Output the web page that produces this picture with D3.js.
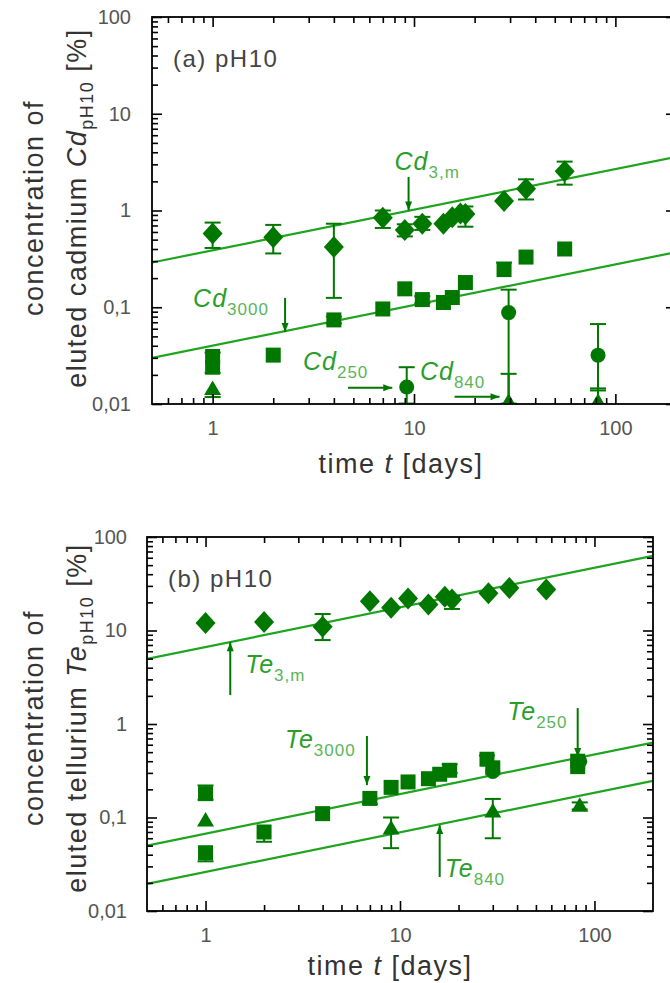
<!DOCTYPE html>
<html><head><meta charset="utf-8">
<script src="https://cdn.jsdelivr.net/npm/d3@7"></script>
<style>body{margin:0;background:#fff}svg{display:block}</style>
</head><body>
<svg id="c" width="670" height="983"></svg>
<script>
// ---------- tick labels ----------
const xMajor = [1, 10, 100];
const xMajorLabels = ["1", "10", "100"];
const xMinor = [0.6, 0.7, 0.8, 0.9, 2, 3, 4, 5, 6, 7, 8, 9, 20, 30, 40, 50, 60, 70, 80, 90];
const yMajor = [0.01, 0.1, 1, 10, 100];
const yMajorLabels = ["0,01", "0,1", "1", "10", "100"];
const yMinor = [0.02,0.03,0.04,0.05,0.06,0.07,0.08,0.09,0.2,0.3,0.4,0.5,0.6,0.7,0.8,0.9,2,3,4,5,6,7,8,9,20,30,40,50,60,70,80,90];

// ---------- panel (a) Cd ----------
const cd3mT  = [1, 2, 4, 7, 9, 11, 14, 15.5, 17, 18, 28, 36, 56];
const cd3mV  = [0.58, 0.53, 0.42, 0.84, 0.63, 0.73, 0.73, 0.85, 0.93, 0.92, 1.25, 1.68, 2.55];
const cd3mLo = [0.41, 0.36, 0.125, 0.66, 0.54, 0.63, null, null, null, 0.68, null, 1.3, 1.85];
const cd3mHi = [0.75, 0.71, 0.73, 1.0, 0.72, 0.86, null, null, null, 1.1, null, 2.1, 3.2];

const cd3000T  = [1, 1, 2, 4, 7, 9, 11, 14, 15.5, 18, 28, 36, 56];
const cd3000V  = [0.031, 0.024, 0.032, 0.074, 0.096, 0.155, 0.12, 0.112, 0.126, 0.18, 0.245, 0.33, 0.40];
const cd3000Lo = [0.021, null, null, 0.068, null, null, 0.11, null, null, null, null, null, null];
const cd3000Hi = [0.034, null, null, 0.08, null, null, 0.13, null, null, null, 0.29, null, null];

const cd250T  = [9.2, 29.5, 82];
const cd250V  = [0.015, 0.088, 0.032];
const cd250Lo = [0.0101, 0.0101, 0.0138];
const cd250Hi = [0.024, 0.152, 0.067];

const cd840T  = [1, 29.5, 82];
const cd840V  = [0.0145, 0.0107, 0.0107];
const cd840Lo = [0.0118, null, null];
const cd840Hi = [null, 0.0205, 0.0145];

const fitAT     = [0.5, 200];
const fitA3m    = [0.29, 3.59];
const fitA3000  = [0.030, 0.371];

// ---------- panel (b) Te ----------
const te3mT  = [1, 2, 4, 7, 9, 11, 14, 17, 18.5, 28.5, 36.5, 56.5];
const te3mV  = [12, 12.3, 11, 20.5, 17.5, 22, 19, 23, 21.5, 25, 28.5, 27.5];
const te3mLo = [null, null, 7.9, null, null, null, null, null, 17, null, null, null];
const te3mHi = [null, null, 15, null, null, null, null, null, 23.5, null, null, null];

const te3000T  = [1, 1, 2, 4, 7, 9, 11, 14, 16, 18, 28, 30, 82, 82];
const te3000V  = [0.18, 0.042, 0.07, 0.11, 0.16, 0.21, 0.24, 0.26, 0.29, 0.32, 0.42, 0.34, 0.40, 0.35];
const te3000Lo = [0.155, 0.034, 0.055, null, 0.14, null, null, null, null, 0.3, null, null, null, null];
const te3000Hi = [0.22, null, null, null, null, null, null, null, null, 0.37, 0.46, null, null, null];

const te250T = [30, 84];
const te250V = [0.31, 0.40];
const te250Lo = [null, null];
const te250Hi = [null, null];

const te840T  = [1, 9, 30, 84];
const te840V  = [0.094, 0.077, 0.117, 0.135];
const te840Lo = [null, 0.047, 0.06, 0.122];
const te840Hi = [null, 0.1, 0.158, 0.145];

const fitBT    = [0.5, 200];
const fitB3m   = [4.96, 62.9];
const fitB3000 = [0.05, 0.634];
const fitB840  = [0.0195, 0.247];

// ---------- annotations (data coordinates) ----------
const annA = [
  {el: "Cd", sub: "3,m",  t: 8.0,  v: 2.62},
  {el: "Cd", sub: "3000", t: 0.80, v: 0.1006},
  {el: "Cd", sub: "250",  t: 2.81, v: 0.0225},
  {el: "Cd", sub: "840",  t: 10.7, v: 0.0177}
];
const arrA = [
  {t1: 9.4,  v1: 2.22,   t2: 9.4,  v2: 1.0},
  {t1: 2.29, v1: 0.125,  t2: 2.29, v2: 0.0554},
  {t1: 4.7,  v1: 0.0147, t2: 7.8,  v2: 0.0147},
  {t1: 15.9, v1: 0.0119, t2: 26.6, v2: 0.0119}
];
const annB = [
  {el: "Te", sub: "3,m",  t: 1.6,  v: 3.51},
  {el: "Te", sub: "3000", t: 2.56, v: 0.554},
  {el: "Te", sub: "250",  t: 35.6, v: 1.10},
  {el: "Te", sub: "840",  t: 17.0, v: 0.0232}
];
const arrB = [
  {t1: 1.34, v1: 2.04,  t2: 1.34, v2: 7.5},
  {t1: 6.76, v1: 0.744, t2: 6.76, v2: 0.222},
  {t1: 82,   v1: 1.48,  t2: 82,   v2: 0.444},
  {t1: 16.0, v1: 0.0231, t2: 16.0, v2: 0.083}
];

// ---------- styles ----------
const C_MARK = "#007800", C_LINE = "#1ea41e", C_TEXT = "#2a9e2a", C_SUB = "#5ab55a";
const FONT = "'Liberation Sans', Arial, sans-serif";
const svg = d3.select("#c");

const shapes = {
  diamond: "M0,-11L10,0L0,11L-10,0Z",
  square: "M-7.5,-7.5h15v15h-15Z",
  triangle: "M0,-8L8.5,6.5L-8.5,6.5Z"
};

function panel(cfg) {
  const g = svg.append("g");
  const x = d3.scaleLog().domain([0.5, 200]).range([cfg.left, cfg.right]);
  const y = d3.scaleLog().domain([0.01, 100]).range([cfg.bottom, cfg.top]);
  const cid = "clip" + cfg.id;
  svg.append("clipPath").attr("id", cid).append("rect")
    .attr("x", cfg.left).attr("y", cfg.top)
    .attr("width", cfg.right - cfg.left).attr("height", cfg.bottom - cfg.top);
  const data = g.append("g").attr("clip-path", `url(#${cid})`);

  // fit lines
  const line = d3.line().x(d => x(d[0])).y(d => y(d[1]));
  cfg.fits.forEach(f => {
    data.append("path").datum(f.t.map((t, i) => [t, f.v[i]]))
      .attr("d", line).attr("fill", "none")
      .attr("stroke", C_LINE).attr("stroke-width", 2.2);
  });

  // series
  cfg.series.forEach(s => {
    const pts = s.t.map((t, i) => ({t, v: s.v[i], lo: s.lo[i], hi: s.hi[i]}));
    const eb = data.append("g").attr("stroke", C_MARK).attr("stroke-width", 2);
    pts.forEach(p => {
      const cx = x(p.t), cy = y(p.v);
      if (p.hi != null) {
        eb.append("line").attr("x1", cx).attr("x2", cx).attr("y1", cy).attr("y2", y(p.hi));
        eb.append("line").attr("x1", cx - 8).attr("x2", cx + 8).attr("y1", y(p.hi)).attr("y2", y(p.hi));
      }
      if (p.lo != null) {
        eb.append("line").attr("x1", cx).attr("x2", cx).attr("y1", cy).attr("y2", y(p.lo));
        eb.append("line").attr("x1", cx - 8).attr("x2", cx + 8).attr("y1", y(p.lo)).attr("y2", y(p.lo));
      }
    });
    if (s.shape === "circle") {
      data.selectAll(null).data(pts).enter().append("circle")
        .attr("cx", d => x(d.t)).attr("cy", d => y(d.v)).attr("r", 7.5).attr("fill", C_MARK);
    } else {
      data.selectAll(null).data(pts).enter().append("path")
        .attr("d", shapes[s.shape])
        .attr("transform", d => `translate(${x(d.t)},${y(d.v)})`).attr("fill", C_MARK);
    }
  });

  // annotations
  cfg.ann.forEach(a => {
    const t = g.append("text").attr("x", x(a.t)).attr("y", y(a.v))
      .attr("font-family", FONT);
    t.append("tspan").text(a.el).attr("font-size", 25).attr("font-style", "italic")
      .attr("fill", C_TEXT).attr("letter-spacing", 1);
    t.append("tspan").text(a.sub).attr("font-size", 17).attr("dy", 8)
      .attr("fill", C_SUB).attr("letter-spacing", 1);
  });
  cfg.arrows.forEach(a => {
    const x1 = x(a.t1), y1 = y(a.v1), x2 = x(a.t2), y2 = y(a.v2);
    g.append("line").attr("x1", x1).attr("y1", y1).attr("x2", x2).attr("y2", y2)
      .attr("stroke", C_MARK).attr("stroke-width", 2);
    const ang = Math.atan2(y2 - y1, x2 - x1) * 180 / Math.PI;
    g.append("path").attr("d", "M0,0L-9,-3.5L-9,3.5Z").attr("fill", C_MARK)
      .attr("transform", `translate(${x2},${y2}) rotate(${ang})`);
  });

  // axes (ticks inward on all four sides)
  const ax = g.append("g").attr("font-family", FONT);
  const mk = (axisFn, scale, vals, size, tx, ty, labels, pad) => {
    const a = axisFn(scale).tickValues(vals).tickSizeInner(size).tickSizeOuter(0)
      .tickPadding(pad || 3)
      .tickFormat(labels ? ((d, i) => labels[i]) : "");
    const gg = ax.append("g").attr("transform", `translate(${tx},${ty})`).call(a);
    gg.select(".domain").remove();
    gg.selectAll(".tick line").attr("stroke", "#000").attr("stroke-width", 1.6);
    gg.selectAll(".tick text").attr("font-size", 20).attr("fill", "#555");
    return gg;
  };
  mk(d3.axisBottom, x, xMajor, -10, 0, cfg.bottom, xMajorLabels, cfg.xPad);
  mk(d3.axisBottom, x, xMinor, -6, 0, cfg.bottom);
  mk(d3.axisTop, x, xMajor, -10, 0, cfg.top);
  mk(d3.axisTop, x, xMinor, -6, 0, cfg.top);
  mk(d3.axisLeft, y, yMajor, -10, cfg.left, 0, yMajorLabels, cfg.yPad);
  mk(d3.axisLeft, y, yMinor, -6, cfg.left, 0);
  mk(d3.axisRight, y, yMajor, -10, cfg.right, 0);
  mk(d3.axisRight, y, yMinor, -6, cfg.right, 0);
  ax.append("rect").attr("x", cfg.left).attr("y", cfg.top)
    .attr("width", cfg.right - cfg.left).attr("height", cfg.bottom - cfg.top)
    .attr("fill", "none").attr("stroke", "#000").attr("stroke-width", 1.8);

  // panel label
  g.append("text").attr("x", cfg.left + 21).attr("y", cfg.top + 50)
    .attr("font-family", FONT).attr("font-size", 24).attr("letter-spacing", 1.5)
    .attr("fill", "#444").text(cfg.label);

  // x title
  const xt = g.append("text").attr("x", cfg.xTitleX).attr("y", cfg.xTitleY)
    .attr("text-anchor", "middle").attr("font-family", FONT).attr("font-size", 27)
    .attr("letter-spacing", 1.5).attr("fill", "#333");
  xt.append("tspan").text("time ");
  xt.append("tspan").text("t").attr("font-style", "italic");
  xt.append("tspan").text(" [days]");

  // y title (two rotated lines)
  g.append("text").attr("transform", `translate(43,${cfg.yTitleY}) rotate(-90)`)
    .attr("text-anchor", "middle").attr("font-family", FONT).attr("font-size", 27)
    .attr("letter-spacing", 1.5).attr("fill", "#333").text("concentration of");
  const yt = g.append("text").attr("transform", `translate(86,${cfg.yTitleY}) rotate(-90)`)
    .attr("text-anchor", "middle").attr("font-family", FONT).attr("font-size", 27)
    .attr("letter-spacing", 1.5).attr("fill", "#333");
  yt.append("tspan").text(cfg.yWord + " ");
  yt.append("tspan").text(cfg.yEl).attr("font-style", "italic");
  yt.append("tspan").text("pH10").attr("font-size", 18).attr("dy", 7);
  yt.append("tspan").text(" [%]").attr("dy", -7);
}

panel({
  id: "a", left: 152, right: 676, top: 17, bottom: 404,
  label: "(a) pH10", xPad: 17, yPad: 21,
  xTitleX: 401, xTitleY: 473, yTitleY: 208,
  yWord: "eluted cadmium", yEl: "Cd",
  fits: [{t: fitAT, v: fitA3m}, {t: fitAT, v: fitA3000}],
  series: [
    {shape: "diamond", t: cd3mT, v: cd3mV, lo: cd3mLo, hi: cd3mHi},
    {shape: "square", t: cd3000T, v: cd3000V, lo: cd3000Lo, hi: cd3000Hi},
    {shape: "circle", t: cd250T, v: cd250V, lo: cd250Lo, hi: cd250Hi},
    {shape: "triangle", t: cd840T, v: cd840V, lo: cd840Lo, hi: cd840Hi}
  ],
  ann: annA, arrows: arrA
});

panel({
  id: "b", left: 147, right: 653, top: 537, bottom: 911,
  label: "(b) pH10", xPad: 17, yPad: 20,
  xTitleX: 390, xTitleY: 975, yTitleY: 718,
  yWord: "eluted tellurium", yEl: "Te",
  fits: [{t: fitBT, v: fitB3m}, {t: fitBT, v: fitB3000}, {t: fitBT, v: fitB840}],
  series: [
    {shape: "diamond", t: te3mT, v: te3mV, lo: te3mLo, hi: te3mHi},
    {shape: "square", t: te3000T, v: te3000V, lo: te3000Lo, hi: te3000Hi},
    {shape: "circle", t: te250T, v: te250V, lo: te250Lo, hi: te250Hi},
    {shape: "triangle", t: te840T, v: te840V, lo: te840Lo, hi: te840Hi}
  ],
  ann: annB, arrows: arrB
});
</script></body></html>
